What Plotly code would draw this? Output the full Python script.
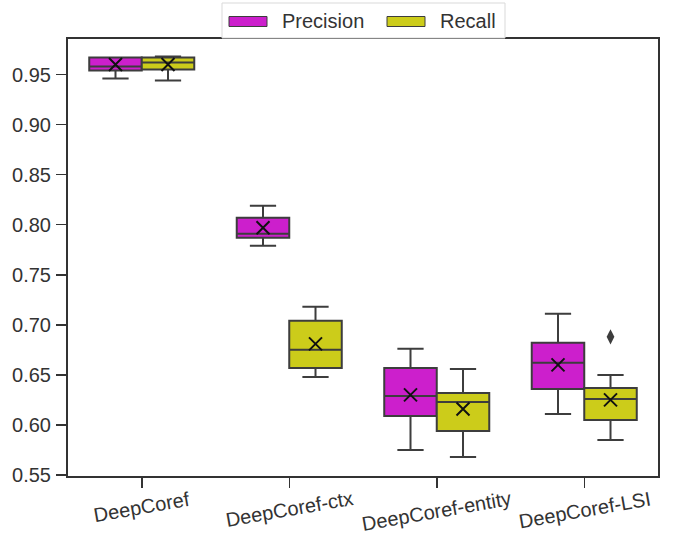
import numpy as np
import plotly.graph_objects as go

categories = ["DeepCoref", "DeepCoref-ctx", "DeepCoref-entity", "DeepCoref-LSI"]

prec_lower = [0.946, 0.779, 0.575, 0.611]
prec_q1 = [0.954, 0.787, 0.609, 0.636]
prec_median = [0.958, 0.791, 0.629, 0.662]
prec_q3 = [0.967, 0.807, 0.657, 0.682]
prec_upper = [0.967, 0.819, 0.676, 0.711]
prec_mean = [0.960, 0.797, 0.630, 0.660]

rec_lower = [0.944, 0.648, 0.568, 0.585]
rec_q1 = [0.955, 0.657, 0.594, 0.605]
rec_median = [0.962, 0.675, 0.623, 0.626]
rec_q3 = [0.967, 0.704, 0.632, 0.637]
rec_upper = [0.968, 0.718, 0.656, 0.650]
rec_mean = [0.960, 0.681, 0.616, 0.625]

rec_outlier_cat = [3]
rec_outlier_val = [0.688]

y_ticks = [0.55, 0.60, 0.65, 0.70, 0.75, 0.80, 0.85, 0.90, 0.95]
series_names = ["Precision", "Recall"]

PREC_COLOR = "#cc1fcc"
REC_COLOR = "#cccc1a"
LINE = "#3d3d3d"
TEXT = "#333333"
FONT = "Liberation Sans, Arial, sans-serif"

W, H = 680, 542
ML, MR, MT, MB = 68, 22, 39, 66
PW, PH = W - ML - MR, H - MT - MB


def px_x(p):
    return (p - ML) / PW


def px_y(p):
    return (H - MB - p) / PH


BOX_W = 0.356
pos = np.arange(len(categories))
prec_x = pos - BOX_W / 2
rec_x = pos + BOX_W / 2

fig = go.Figure()

fig.add_trace(go.Box(
    name=series_names[0], x=prec_x, q1=prec_q1, median=prec_median, q3=prec_q3,
    lowerfence=prec_lower, upperfence=prec_upper, width=BOX_W,
    fillcolor=PREC_COLOR, line=dict(color=LINE, width=2), whiskerwidth=0.5,
    boxpoints=False, hoverinfo="skip", showlegend=False,
))
fig.add_trace(go.Box(
    name=series_names[1], x=rec_x, q1=rec_q1, median=rec_median, q3=rec_q3,
    lowerfence=rec_lower, upperfence=rec_upper, width=BOX_W,
    fillcolor=REC_COLOR, line=dict(color=LINE, width=2), whiskerwidth=0.5,
    boxpoints=False, hoverinfo="skip", showlegend=False,
))

fig.add_trace(go.Scatter(
    x=np.concatenate([prec_x, rec_x]), y=prec_mean + rec_mean, mode="markers",
    marker=dict(symbol="x-thin", size=13, line=dict(color="#111111", width=2)),
    showlegend=False, hoverinfo="skip",
))
fig.add_trace(go.Scatter(
    x=[rec_x[i] for i in rec_outlier_cat], y=rec_outlier_val, mode="markers",
    marker=dict(symbol="diamond-tall", size=11, color=LINE),
    showlegend=False, hoverinfo="skip",
))

# rotated category labels (centered under ticks, like matplotlib)
annotations = []
for i, cat in enumerate(categories):
    annotations.append(dict(
        x=i, xref="x", y=0, yref="paper", yanchor="top", xanchor="center",
        yshift=-9, text=cat, textangle=-10, showarrow=False,
        font=dict(family=FONT, size=20, color=TEXT),
    ))

# legend box drawn at the top, overlapping the frame
shapes = [dict(
    type="rect", xref="paper", yref="paper",
    x0=px_x(222), x1=px_x(505), y0=px_y(38), y1=px_y(3),
    line=dict(color="#d9d9d9", width=1), fillcolor="white", layer="above",
)]
legend_items = [
    (series_names[0], PREC_COLOR, 229, 267, 282),
    (series_names[1], REC_COLOR, 387, 425, 440),
]
for name, col, sx0, sx1, tx in legend_items:
    shapes.append(dict(
        type="rect", xref="paper", yref="paper",
        x0=px_x(sx0), x1=px_x(sx1), y0=px_y(26.5), y1=px_y(16.5),
        line=dict(color=LINE, width=1), fillcolor=col, layer="above",
    ))
    annotations.append(dict(
        x=px_x(tx - 2), xref="paper", y=px_y(20.5), yref="paper",
        xanchor="left", yanchor="middle", text=name, showarrow=False,
        font=dict(family=FONT, size=20, color=TEXT),
    ))

fig.update_layout(
    width=W, height=H,
    margin=dict(l=ML, r=MR, t=MT, b=MB, autoexpand=False),
    paper_bgcolor="white", plot_bgcolor="white",
    font=dict(family=FONT, size=20, color=TEXT),
    showlegend=False,
    annotations=annotations,
    shapes=shapes,
    xaxis=dict(
        range=[-0.5, 3.5], tickmode="array", tickvals=pos, ticktext=categories,
        showticklabels=False, showgrid=False, zeroline=False,
        showline=True, linecolor="#333333", linewidth=2, mirror=True,
        ticks="outside", ticklen=10, tickwidth=1.5, tickcolor="#333333",
    ),
    yaxis=dict(
        range=[0.549, 0.9855], tickmode="array", tickvals=y_ticks,
        ticktext=[f"{v:.2f}" for v in y_ticks],
        showgrid=False, zeroline=False,
        showline=True, linecolor="#333333", linewidth=2, mirror=True,
        ticks="outside", ticklen=10, tickwidth=1.5, tickcolor="#333333",
        ticklabelstandoff=1,
    ),
)

fig.write_html(
    "out.html",
    config={"displayModeBar": False, "staticPlot": True},
    post_script="document.body.style.margin='0';document.body.style.overflow='hidden';",
)
